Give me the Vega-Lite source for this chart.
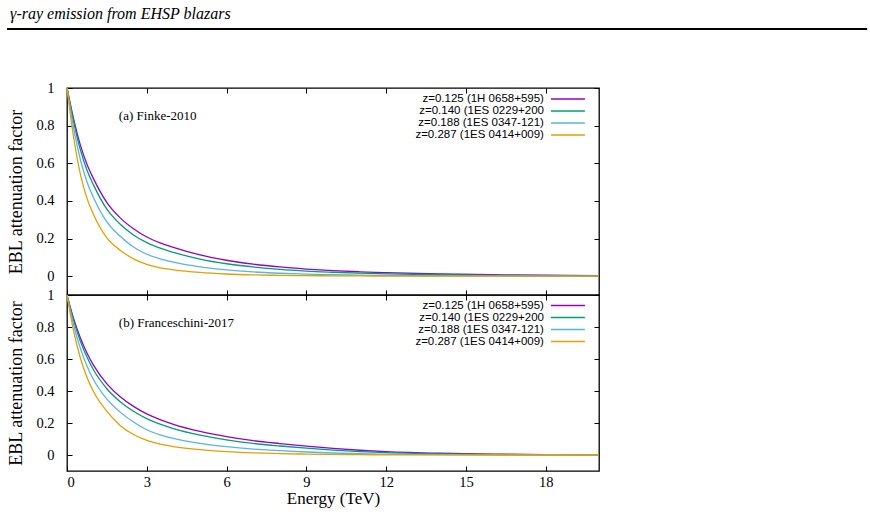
{
  "$schema": "https://vega.github.io/schema/vega-lite/v6.json",
  "padding": 5,
  "background": "white",
  "config": {
    "view": {"stroke": "#000", "strokeWidth": 1.3},
    "axis": {
      "domain": false, "grid": false,
      "tickColor": "#000", "tickSize": -5, "tickWidth": 1,
      "labelFont": "Liberation Serif", "labelFontSize": 14.5, "labelColor": "#000",
      "titleFont": "Liberation Serif", "titleFontSize": 18, "titleFontWeight": "normal", "titleColor": "#000"
    },
    "line": {"strokeWidth": 1.3, "interpolate": "monotone"},
    "range": {"category": ["#9400d3", "#009e73", "#56b4e9", "#e69f00"]}
  },
  "datasets": {
    "sources": [
      {"s": "z=0.125 (1H 0658+595)"},
      {"s": "z=0.140 (1ES 0229+200"},
      {"s": "z=0.188 (1ES 0347-121)"},
      {"s": "z=0.287 (1ES 0414+009)"}
    ],
    "finke": [
      {"s": "z=0.125 (1H 0658+595)", "e": 0, "a": 1},
      {"s": "z=0.125 (1H 0658+595)", "e": 0.25, "a": 0.835},
      {"s": "z=0.125 (1H 0658+595)", "e": 0.5, "a": 0.698},
      {"s": "z=0.125 (1H 0658+595)", "e": 0.75, "a": 0.595},
      {"s": "z=0.125 (1H 0658+595)", "e": 1, "a": 0.517},
      {"s": "z=0.125 (1H 0658+595)", "e": 1.5, "a": 0.391},
      {"s": "z=0.125 (1H 0658+595)", "e": 2, "a": 0.31},
      {"s": "z=0.125 (1H 0658+595)", "e": 2.5, "a": 0.252},
      {"s": "z=0.125 (1H 0658+595)", "e": 3, "a": 0.208},
      {"s": "z=0.125 (1H 0658+595)", "e": 3.5, "a": 0.177},
      {"s": "z=0.125 (1H 0658+595)", "e": 4, "a": 0.153},
      {"s": "z=0.125 (1H 0658+595)", "e": 5, "a": 0.113},
      {"s": "z=0.125 (1H 0658+595)", "e": 6, "a": 0.0846},
      {"s": "z=0.125 (1H 0658+595)", "e": 7, "a": 0.064},
      {"s": "z=0.125 (1H 0658+595)", "e": 8, "a": 0.049},
      {"s": "z=0.125 (1H 0658+595)", "e": 9, "a": 0.038},
      {"s": "z=0.125 (1H 0658+595)", "e": 10, "a": 0.0296},
      {"s": "z=0.125 (1H 0658+595)", "e": 11, "a": 0.0233},
      {"s": "z=0.125 (1H 0658+595)", "e": 12, "a": 0.0184},
      {"s": "z=0.125 (1H 0658+595)", "e": 14, "a": 0.0117},
      {"s": "z=0.125 (1H 0658+595)", "e": 16, "a": 0.0076},
      {"s": "z=0.125 (1H 0658+595)", "e": 18, "a": 0.005},
      {"s": "z=0.125 (1H 0658+595)", "e": 20, "a": 0.0034},
      {"s": "z=0.140 (1ES 0229+200", "e": 0, "a": 1},
      {"s": "z=0.140 (1ES 0229+200", "e": 0.25, "a": 0.82},
      {"s": "z=0.140 (1ES 0229+200", "e": 0.5, "a": 0.673},
      {"s": "z=0.140 (1ES 0229+200", "e": 0.75, "a": 0.564},
      {"s": "z=0.140 (1ES 0229+200", "e": 1, "a": 0.484},
      {"s": "z=0.140 (1ES 0229+200", "e": 1.5, "a": 0.356},
      {"s": "z=0.140 (1ES 0229+200", "e": 2, "a": 0.276},
      {"s": "z=0.140 (1ES 0229+200", "e": 2.5, "a": 0.219},
      {"s": "z=0.140 (1ES 0229+200", "e": 3, "a": 0.178},
      {"s": "z=0.140 (1ES 0229+200", "e": 3.5, "a": 0.149},
      {"s": "z=0.140 (1ES 0229+200", "e": 4, "a": 0.1265},
      {"s": "z=0.140 (1ES 0229+200", "e": 5, "a": 0.091},
      {"s": "z=0.140 (1ES 0229+200", "e": 6, "a": 0.0661},
      {"s": "z=0.140 (1ES 0229+200", "e": 7, "a": 0.049},
      {"s": "z=0.140 (1ES 0229+200", "e": 8, "a": 0.036},
      {"s": "z=0.140 (1ES 0229+200", "e": 9, "a": 0.027},
      {"s": "z=0.140 (1ES 0229+200", "e": 10, "a": 0.021},
      {"s": "z=0.140 (1ES 0229+200", "e": 11, "a": 0.016},
      {"s": "z=0.140 (1ES 0229+200", "e": 12, "a": 0.0124},
      {"s": "z=0.140 (1ES 0229+200", "e": 14, "a": 0.0075},
      {"s": "z=0.140 (1ES 0229+200", "e": 16, "a": 0.0047},
      {"s": "z=0.140 (1ES 0229+200", "e": 18, "a": 0.003},
      {"s": "z=0.140 (1ES 0229+200", "e": 20, "a": 0.0019},
      {"s": "z=0.188 (1ES 0347-121)", "e": 0, "a": 1},
      {"s": "z=0.188 (1ES 0347-121)", "e": 0.25, "a": 0.788},
      {"s": "z=0.188 (1ES 0347-121)", "e": 0.5, "a": 0.621},
      {"s": "z=0.188 (1ES 0347-121)", "e": 0.75, "a": 0.502},
      {"s": "z=0.188 (1ES 0347-121)", "e": 1, "a": 0.417},
      {"s": "z=0.188 (1ES 0347-121)", "e": 1.5, "a": 0.288},
      {"s": "z=0.188 (1ES 0347-121)", "e": 2, "a": 0.212},
      {"s": "z=0.188 (1ES 0347-121)", "e": 2.5, "a": 0.155},
      {"s": "z=0.188 (1ES 0347-121)", "e": 3, "a": 0.1165},
      {"s": "z=0.188 (1ES 0347-121)", "e": 3.5, "a": 0.092},
      {"s": "z=0.188 (1ES 0347-121)", "e": 4, "a": 0.0747},
      {"s": "z=0.188 (1ES 0347-121)", "e": 5, "a": 0.0494},
      {"s": "z=0.188 (1ES 0347-121)", "e": 6, "a": 0.0331},
      {"s": "z=0.188 (1ES 0347-121)", "e": 7, "a": 0.0225},
      {"s": "z=0.188 (1ES 0347-121)", "e": 8, "a": 0.0156},
      {"s": "z=0.188 (1ES 0347-121)", "e": 9, "a": 0.0109},
      {"s": "z=0.188 (1ES 0347-121)", "e": 10, "a": 0.0078},
      {"s": "z=0.188 (1ES 0347-121)", "e": 11, "a": 0.0056},
      {"s": "z=0.188 (1ES 0347-121)", "e": 12, "a": 0.004},
      {"s": "z=0.188 (1ES 0347-121)", "e": 14, "a": 0.0022},
      {"s": "z=0.188 (1ES 0347-121)", "e": 16, "a": 0.0012},
      {"s": "z=0.188 (1ES 0347-121)", "e": 18, "a": 0.0007},
      {"s": "z=0.188 (1ES 0347-121)", "e": 20, "a": 0.0004},
      {"s": "z=0.287 (1ES 0414+009)", "e": 0, "a": 1},
      {"s": "z=0.287 (1ES 0414+009)", "e": 0.25, "a": 0.737},
      {"s": "z=0.287 (1ES 0414+009)", "e": 0.5, "a": 0.544},
      {"s": "z=0.287 (1ES 0414+009)", "e": 0.75, "a": 0.415},
      {"s": "z=0.287 (1ES 0414+009)", "e": 1, "a": 0.327},
      {"s": "z=0.287 (1ES 0414+009)", "e": 1.5, "a": 0.204},
      {"s": "z=0.287 (1ES 0414+009)", "e": 2, "a": 0.138},
      {"s": "z=0.287 (1ES 0414+009)", "e": 2.5, "a": 0.092},
      {"s": "z=0.287 (1ES 0414+009)", "e": 3, "a": 0.0627},
      {"s": "z=0.287 (1ES 0414+009)", "e": 3.5, "a": 0.0444},
      {"s": "z=0.287 (1ES 0414+009)", "e": 4, "a": 0.0339},
      {"s": "z=0.287 (1ES 0414+009)", "e": 5, "a": 0.0198},
      {"s": "z=0.287 (1ES 0414+009)", "e": 6, "a": 0.0117},
      {"s": "z=0.287 (1ES 0414+009)", "e": 7, "a": 0.0071},
      {"s": "z=0.287 (1ES 0414+009)", "e": 8, "a": 0.0044},
      {"s": "z=0.287 (1ES 0414+009)", "e": 9, "a": 0.0028},
      {"s": "z=0.287 (1ES 0414+009)", "e": 10, "a": 0.0018},
      {"s": "z=0.287 (1ES 0414+009)", "e": 11, "a": 0.0012},
      {"s": "z=0.287 (1ES 0414+009)", "e": 12, "a": 0.0008},
      {"s": "z=0.287 (1ES 0414+009)", "e": 14, "a": 0.0003},
      {"s": "z=0.287 (1ES 0414+009)", "e": 16, "a": 0.0002},
      {"s": "z=0.287 (1ES 0414+009)", "e": 18, "a": 0.0001},
      {"s": "z=0.287 (1ES 0414+009)", "e": 20, "a": 0}
    ],
    "franceschini": [
      {"s": "z=0.125 (1H 0658+595)", "e": 0, "a": 1},
      {"s": "z=0.125 (1H 0658+595)", "e": 0.25, "a": 0.852},
      {"s": "z=0.125 (1H 0658+595)", "e": 0.5, "a": 0.733},
      {"s": "z=0.125 (1H 0658+595)", "e": 0.75, "a": 0.638},
      {"s": "z=0.125 (1H 0658+595)", "e": 1, "a": 0.56},
      {"s": "z=0.125 (1H 0658+595)", "e": 1.5, "a": 0.445},
      {"s": "z=0.125 (1H 0658+595)", "e": 2, "a": 0.364},
      {"s": "z=0.125 (1H 0658+595)", "e": 2.5, "a": 0.304},
      {"s": "z=0.125 (1H 0658+595)", "e": 3, "a": 0.257},
      {"s": "z=0.125 (1H 0658+595)", "e": 3.5, "a": 0.221},
      {"s": "z=0.125 (1H 0658+595)", "e": 4, "a": 0.192},
      {"s": "z=0.125 (1H 0658+595)", "e": 5, "a": 0.148},
      {"s": "z=0.125 (1H 0658+595)", "e": 6, "a": 0.1153},
      {"s": "z=0.125 (1H 0658+595)", "e": 7, "a": 0.0898},
      {"s": "z=0.125 (1H 0658+595)", "e": 8, "a": 0.0714},
      {"s": "z=0.125 (1H 0658+595)", "e": 9, "a": 0.055},
      {"s": "z=0.125 (1H 0658+595)", "e": 10, "a": 0.0408},
      {"s": "z=0.125 (1H 0658+595)", "e": 11, "a": 0.0296},
      {"s": "z=0.125 (1H 0658+595)", "e": 12, "a": 0.0213},
      {"s": "z=0.125 (1H 0658+595)", "e": 14, "a": 0.0111},
      {"s": "z=0.125 (1H 0658+595)", "e": 16, "a": 0.0055},
      {"s": "z=0.125 (1H 0658+595)", "e": 18, "a": 0.0027},
      {"s": "z=0.125 (1H 0658+595)", "e": 20, "a": 0.0014},
      {"s": "z=0.140 (1ES 0229+200", "e": 0, "a": 1},
      {"s": "z=0.140 (1ES 0229+200", "e": 0.25, "a": 0.84},
      {"s": "z=0.140 (1ES 0229+200", "e": 0.5, "a": 0.713},
      {"s": "z=0.140 (1ES 0229+200", "e": 0.75, "a": 0.612},
      {"s": "z=0.140 (1ES 0229+200", "e": 1, "a": 0.531},
      {"s": "z=0.140 (1ES 0229+200", "e": 1.5, "a": 0.414},
      {"s": "z=0.140 (1ES 0229+200", "e": 2, "a": 0.333},
      {"s": "z=0.140 (1ES 0229+200", "e": 2.5, "a": 0.273},
      {"s": "z=0.140 (1ES 0229+200", "e": 3, "a": 0.227},
      {"s": "z=0.140 (1ES 0229+200", "e": 3.5, "a": 0.193},
      {"s": "z=0.140 (1ES 0229+200", "e": 4, "a": 0.1655},
      {"s": "z=0.140 (1ES 0229+200", "e": 5, "a": 0.1247},
      {"s": "z=0.140 (1ES 0229+200", "e": 6, "a": 0.095},
      {"s": "z=0.140 (1ES 0229+200", "e": 7, "a": 0.0723},
      {"s": "z=0.140 (1ES 0229+200", "e": 8, "a": 0.0563},
      {"s": "z=0.140 (1ES 0229+200", "e": 9, "a": 0.0424},
      {"s": "z=0.140 (1ES 0229+200", "e": 10, "a": 0.0306},
      {"s": "z=0.140 (1ES 0229+200", "e": 11, "a": 0.0216},
      {"s": "z=0.140 (1ES 0229+200", "e": 12, "a": 0.015},
      {"s": "z=0.140 (1ES 0229+200", "e": 14, "a": 0.0074},
      {"s": "z=0.140 (1ES 0229+200", "e": 16, "a": 0.0035},
      {"s": "z=0.140 (1ES 0229+200", "e": 18, "a": 0.0016},
      {"s": "z=0.140 (1ES 0229+200", "e": 20, "a": 0.0008},
      {"s": "z=0.188 (1ES 0347-121)", "e": 0, "a": 1},
      {"s": "z=0.188 (1ES 0347-121)", "e": 0.25, "a": 0.812},
      {"s": "z=0.188 (1ES 0347-121)", "e": 0.5, "a": 0.668},
      {"s": "z=0.188 (1ES 0347-121)", "e": 0.75, "a": 0.557},
      {"s": "z=0.188 (1ES 0347-121)", "e": 1, "a": 0.47},
      {"s": "z=0.188 (1ES 0347-121)", "e": 1.5, "a": 0.349},
      {"s": "z=0.188 (1ES 0347-121)", "e": 2, "a": 0.268},
      {"s": "z=0.188 (1ES 0347-121)", "e": 2.5, "a": 0.206},
      {"s": "z=0.188 (1ES 0347-121)", "e": 3, "a": 0.158},
      {"s": "z=0.188 (1ES 0347-121)", "e": 3.5, "a": 0.1264},
      {"s": "z=0.188 (1ES 0347-121)", "e": 4, "a": 0.1043},
      {"s": "z=0.188 (1ES 0347-121)", "e": 5, "a": 0.0731},
      {"s": "z=0.188 (1ES 0347-121)", "e": 6, "a": 0.0519},
      {"s": "z=0.188 (1ES 0347-121)", "e": 7, "a": 0.0368},
      {"s": "z=0.188 (1ES 0347-121)", "e": 8, "a": 0.0269},
      {"s": "z=0.188 (1ES 0347-121)", "e": 9, "a": 0.0188},
      {"s": "z=0.188 (1ES 0347-121)", "e": 10, "a": 0.0125},
      {"s": "z=0.188 (1ES 0347-121)", "e": 11, "a": 0.008},
      {"s": "z=0.188 (1ES 0347-121)", "e": 12, "a": 0.0051},
      {"s": "z=0.188 (1ES 0347-121)", "e": 14, "a": 0.0021},
      {"s": "z=0.188 (1ES 0347-121)", "e": 16, "a": 0.0008},
      {"s": "z=0.188 (1ES 0347-121)", "e": 18, "a": 0.0003},
      {"s": "z=0.188 (1ES 0347-121)", "e": 20, "a": 0.0001},
      {"s": "z=0.287 (1ES 0414+009)", "e": 0, "a": 1},
      {"s": "z=0.287 (1ES 0414+009)", "e": 0.25, "a": 0.774},
      {"s": "z=0.287 (1ES 0414+009)", "e": 0.5, "a": 0.608},
      {"s": "z=0.287 (1ES 0414+009)", "e": 0.75, "a": 0.486},
      {"s": "z=0.287 (1ES 0414+009)", "e": 1, "a": 0.395},
      {"s": "z=0.287 (1ES 0414+009)", "e": 1.5, "a": 0.273},
      {"s": "z=0.287 (1ES 0414+009)", "e": 2, "a": 0.185},
      {"s": "z=0.287 (1ES 0414+009)", "e": 2.5, "a": 0.128},
      {"s": "z=0.287 (1ES 0414+009)", "e": 3, "a": 0.091},
      {"s": "z=0.287 (1ES 0414+009)", "e": 3.5, "a": 0.068},
      {"s": "z=0.287 (1ES 0414+009)", "e": 4, "a": 0.053},
      {"s": "z=0.287 (1ES 0414+009)", "e": 5, "a": 0.0334},
      {"s": "z=0.287 (1ES 0414+009)", "e": 6, "a": 0.0214},
      {"s": "z=0.287 (1ES 0414+009)", "e": 7, "a": 0.0137},
      {"s": "z=0.287 (1ES 0414+009)", "e": 8, "a": 0.0091},
      {"s": "z=0.287 (1ES 0414+009)", "e": 9, "a": 0.0057},
      {"s": "z=0.287 (1ES 0414+009)", "e": 10, "a": 0.0034},
      {"s": "z=0.287 (1ES 0414+009)", "e": 11, "a": 0.0019},
      {"s": "z=0.287 (1ES 0414+009)", "e": 12, "a": 0.0011},
      {"s": "z=0.287 (1ES 0414+009)", "e": 14, "a": 0.0003},
      {"s": "z=0.287 (1ES 0414+009)", "e": 16, "a": 0.0001},
      {"s": "z=0.287 (1ES 0414+009)", "e": 18, "a": 0},
      {"s": "z=0.287 (1ES 0414+009)", "e": 20, "a": 0}
    ]
  },
  "bounds": "flush",
  "spacing": 0,
  "vconcat": [
    {
      "width": 532,
      "height": 207,
      "layer": [
        {
          "data": {"name": "finke"},
          "mark": {"type": "line"},
          "encoding": {
            "x": {"field": "e", "type": "quantitative",
                  "scale": {"domain": [0, 20], "nice": false, "zero": false},
                  "axis": {"orient": "bottom", "values": [0, 3, 6, 9, 12, 15, 18], "labels": false, "title": null}},
            "y": {"field": "a", "type": "quantitative",
                  "scale": {"domain": [-0.1, 1], "nice": false, "zero": false},
                  "axis": {"orient": "left", "values": [0, 0.2, 0.4, 0.6, 0.8, 1], "format": "~g",
                           "labelPadding": 18, "title": "EBL attenuation factor", "titlePadding": 10}},
            "color": {"field": "s", "type": "nominal", "sort": null, "legend": null}
          }
        },
        {
          "data": {"values": [{"t": "γ-ray emission from EHSP blazars"}]},
          "mark": {"type": "text", "font": "Liberation Serif", "fontStyle": "italic", "fontSize": 16,
                   "align": "left", "baseline": "alphabetic", "color": "#000"},
          "encoding": {
            "x": {"datum": -2.14, "type": "quantitative",
                  "axis": {"orient": "top", "values": [0, 3, 6, 9, 12, 15, 18], "labels": false, "title": null}},
            "y": {"datum": 1.3667, "type": "quantitative",
                  "scale": {"domain": [-0.1, 1], "nice": false, "zero": false},
                  "axis": {"orient": "right", "values": [0, 0.2, 0.4, 0.6, 0.8, 1], "labels": false, "title": null}},
            "text": {"field": "t"}
          }
        },
        {
          "data": {"values": [{}]},
          "mark": {"type": "rule", "strokeWidth": 2, "color": "#000"},
          "encoding": {
            "x": {"datum": -2.256, "type": "quantitative", "axis": null},
            "x2": {"datum": 30.08},
            "y": {"datum": 1.3135, "type": "quantitative",
                  "scale": {"domain": [-0.1, 1], "nice": false, "zero": false}, "axis": null}
          }
        },
        {
          "data": {"values": [{"t": "(a) Finke-2010"}]},
          "mark": {"type": "text", "font": "Liberation Serif", "fontSize": 13, "align": "left", "baseline": "middle", "color": "#000"},
          "encoding": {
            "x": {"datum": 1.95, "type": "quantitative", "axis": null},
            "y": {"datum": 0.853, "type": "quantitative",
                  "scale": {"domain": [-0.1, 1], "nice": false, "zero": false}, "axis": null},
            "text": {"field": "t"}
          }
        },
        {
          "data": {"name": "sources"},
          "mark": {"type": "rule", "strokeWidth": 1.4},
          "encoding": {
            "x": {"datum": 18.195, "type": "quantitative", "axis": null},
            "x2": {"datum": 19.47},
            "y": {"field": "s", "type": "nominal", "sort": null,
                  "scale": {"type": "point", "range": [11, 47], "padding": 0}, "axis": null},
            "color": {"field": "s", "type": "nominal", "sort": null, "legend": null}
          }
        },
        {
          "data": {"name": "sources"},
          "mark": {"type": "text", "font": "Liberation Sans", "fontSize": 11.5, "align": "right", "baseline": "middle", "color": "#000"},
          "encoding": {
            "x": {"datum": 17.93, "type": "quantitative", "axis": null},
            "y": {"field": "s", "type": "nominal", "sort": null,
                  "scale": {"type": "point", "range": [11, 47], "padding": 0}, "axis": null},
            "text": {"field": "s"}
          }
        }
      ],
      "resolve": {"scale": {"y": "independent"}, "axis": {"x": "independent", "y": "independent"}}
    },
    {
      "width": 532,
      "height": 176,
      "layer": [
        {
          "data": {"name": "franceschini"},
          "mark": {"type": "line"},
          "encoding": {
            "x": {"field": "e", "type": "quantitative",
                  "scale": {"domain": [0, 20], "nice": false, "zero": false},
                  "axis": {"orient": "bottom", "values": [0, 3, 6, 9, 12, 15, 18], "labelPadding": 9,
                           "title": "Energy (TeV)", "titlePadding": 2, "titleFontSize": 17}},
            "y": {"field": "a", "type": "quantitative",
                  "scale": {"domain": [-0.1, 1], "nice": false, "zero": false},
                  "axis": {"orient": "left", "values": [0, 0.2, 0.4, 0.6, 0.8, 1], "format": "~g",
                           "labelPadding": 18, "title": "EBL attenuation factor", "titlePadding": 10}},
            "color": {"field": "s", "type": "nominal", "sort": null, "legend": null}
          }
        },
        {
          "data": {"values": [{"t": "(b) Franceschini-2017"}]},
          "mark": {"type": "text", "font": "Liberation Serif", "fontSize": 13, "align": "left", "baseline": "middle", "color": "#000"},
          "encoding": {
            "x": {"datum": 1.95, "type": "quantitative",
                  "axis": {"orient": "top", "values": [0, 3, 6, 9, 12, 15, 18], "labels": false, "title": null}},
            "y": {"datum": 0.825, "type": "quantitative",
                  "scale": {"domain": [-0.1, 1], "nice": false, "zero": false},
                  "axis": {"orient": "right", "values": [0, 0.2, 0.4, 0.6, 0.8, 1], "labels": false, "title": null}},
            "text": {"field": "t"}
          }
        },
        {
          "data": {"name": "sources"},
          "mark": {"type": "rule", "strokeWidth": 1.4},
          "encoding": {
            "x": {"datum": 18.195, "type": "quantitative", "axis": null},
            "x2": {"datum": 19.47},
            "y": {"field": "s", "type": "nominal", "sort": null,
                  "scale": {"type": "point", "range": [10.5, 46.5], "padding": 0}, "axis": null},
            "color": {"field": "s", "type": "nominal", "sort": null, "legend": null}
          }
        },
        {
          "data": {"name": "sources"},
          "mark": {"type": "text", "font": "Liberation Sans", "fontSize": 11.5, "align": "right", "baseline": "middle", "color": "#000"},
          "encoding": {
            "x": {"datum": 17.93, "type": "quantitative", "axis": null},
            "y": {"field": "s", "type": "nominal", "sort": null,
                  "scale": {"type": "point", "range": [10.5, 46.5], "padding": 0}, "axis": null},
            "text": {"field": "s"}
          }
        }
      ],
      "resolve": {"scale": {"y": "independent"}, "axis": {"x": "independent", "y": "independent"}}
    }
  ]
}
